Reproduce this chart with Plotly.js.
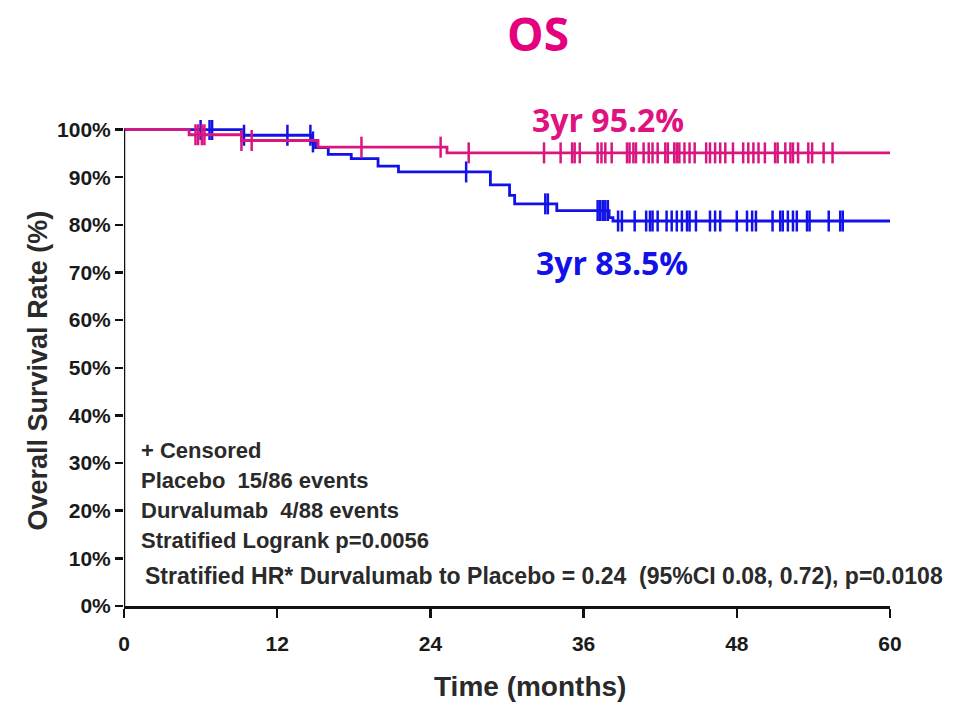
<!DOCTYPE html>
<html>
<head>
<meta charset="utf-8">
<script src="https://cdn.plot.ly/plotly-3.0.1.min.js"></script>
<style>html,body{margin:0;padding:0;background:#fff;}#chart{width:962px;height:702px;}</style>
</head>
<body>
<div id="chart"></div>
<script>
// Durvalumab (pink) Kaplan-Meier steps
const durvaTimes = [0, 5.1, 9.2, 15.2, 25.3, 60];
const durvaSurv  = [100, 98.9, 97.7, 96.3, 95.1, 95.1];
const durvaCensor = [5.6, 5.8, 6.1, 6.3, 9.2, 10.0, 18.6, 24.8, 27.0, 32.9, 34.2, 35.1, 35.3, 35.7,
  37.1, 37.4, 37.7, 38.2, 39.4, 39.6, 39.9, 40.1, 40.7, 41.1, 41.4, 41.8, 42.4, 42.6, 43.1, 43.3, 43.5,
  43.9, 44.3, 44.7, 45.6, 45.9, 46.3, 46.7, 47.1, 47.7, 48.5, 48.9, 49.3, 49.7, 50.2, 51.0, 51.2,
  51.8, 52.2, 52.4, 52.8, 53.6, 53.9, 54.8, 55.5];

// Placebo (blue) Kaplan-Meier steps
const placeboTimes = [0, 9.2, 14.7, 15.0, 16.0, 17.8, 19.9, 21.5, 28.7, 30.2, 30.6, 33.9, 38.0, 38.3, 60];
const placeboSurv  = [100, 98.8, 97.4, 96.2, 94.8, 93.9, 92.3, 91.1, 88.4, 86.2, 84.4, 83.0, 81.5, 80.8, 80.8];
const placeboCensor = [6.0, 6.7, 6.9, 9.4, 12.8, 14.6, 14.8, 26.8, 33.0, 33.2, 37.1, 37.3, 37.5, 37.7,
  37.9, 38.7, 39.0, 40.0, 40.9, 41.2, 41.4, 41.8, 42.5, 42.9, 43.3, 43.7, 44.1, 44.3, 44.8, 45.9,
  46.3, 46.7, 48.0, 48.8, 49.2, 49.5, 50.8, 51.4, 51.6, 52.0, 52.4, 52.7, 53.5, 53.7, 55.2, 56.1, 56.3];

const xTicks = [0, 12, 24, 36, 48, 60];
const yTicks = [0, 10, 20, 30, 40, 50, 60, 70, 80, 90, 100];
const yTickText = ['0%', '10%', '20%', '30%', '40%', '50%', '60%', '70%', '80%', '90%', '100%'];

const legendLines = ['+ Censored', 'Placebo  15/86 events', 'Durvalumab  4/88 events', 'Stratified Logrank p=0.0056'];
const hrLine = 'Stratified HR* Durvalumab to Placebo = 0.24  (95%CI 0.08, 0.72), p=0.0108';

const PINK = '#d9167f';
const BLUE = '#1212e8';

function stepAt(times, surv, t) {
  let v = surv[0];
  for (let i = 0; i < times.length; i++) { if (times[i] <= t) v = surv[i]; }
  return v;
}

const traces = [
  {x: placeboTimes, y: placeboSurv, mode: 'lines', line: {shape: 'hv', color: BLUE, width: 2.8}, hoverinfo: 'skip'},
  {x: placeboCensor, y: placeboCensor.map(t => stepAt(placeboTimes, placeboSurv, t)), mode: 'markers',
   marker: {symbol: 'line-ns', size: 15, line: {color: BLUE, width: 2.5}}, hoverinfo: 'skip'},
  {x: durvaTimes, y: durvaSurv, mode: 'lines', line: {shape: 'hv', color: PINK, width: 2.8}, hoverinfo: 'skip'},
  {x: durvaCensor, y: durvaCensor.map(t => stepAt(durvaTimes, durvaSurv, t)), mode: 'markers',
   marker: {symbol: 'line-ns', size: 15, line: {color: PINK, width: 2.5}}, hoverinfo: 'skip'}
];

const TXT = '#2a2a2a';
const FONT = 'Liberation Sans, Arial, sans-serif';
const annotations = [];
const legendY = [32.7, 26.3, 20.1, 13.8];
legendLines.forEach((s, i) => annotations.push({x: 1.2, y: legendY[i], xref: 'x', yref: 'y', text: '<b>' + s + '</b>',
  showarrow: false, xanchor: 'left', yanchor: 'middle', font: {family: FONT, size: 22, color: TXT}}));
annotations.push({x: 1.45, y: 6.4, xref: 'x', yref: 'y', text: '<b>' + hrLine + '</b>', showarrow: false,
  xanchor: 'left', yanchor: 'middle', font: {family: FONT, size: 23, color: TXT}});
annotations.push({x: 0.632, y: 1.001, xref: 'paper', yref: 'paper', text: '<b>3yr 95.2%</b>', showarrow: false,
  xanchor: 'center', yanchor: 'middle', font: {family: 'Open Sans, sans-serif', size: 32, color: '#e0127f'}});
annotations.push({x: 0.637, y: 0.707, xref: 'paper', yref: 'paper', text: '<b>3yr 83.5%</b>', showarrow: false,
  xanchor: 'center', yanchor: 'middle', font: {family: 'Open Sans, sans-serif', size: 32, color: BLUE}});
annotations.push({x: 0.530, y: -0.1665, xref: 'paper', yref: 'paper', text: '<b>Time (months)</b>', showarrow: false,
  xanchor: 'center', yanchor: 'middle', font: {family: FONT, size: 28, color: TXT}});
annotations.push({x: -0.112, y: 0.485, xref: 'paper', yref: 'paper', text: '<b>Overall Survival Rate (%)</b>', showarrow: false,
  textangle: -90, xanchor: 'center', yanchor: 'middle', font: {family: FONT, size: 27, color: TXT}});

const layout = {
  width: 962, height: 702,
  margin: {l: 124, r: 72, t: 119.5, b: 96},
  paper_bgcolor: '#fff', plot_bgcolor: '#fff',
  showlegend: false,
  title: {text: '<b>OS</b>', x: 538 / 962, xanchor: 'center', y: 1 - 35 / 702, yanchor: 'middle',
          font: {family: 'Open Sans, sans-serif', size: 46, color: '#e5007d'}},
  xaxis: {range: [0, 60], tickvals: xTicks, ticktext: xTicks.map(String), ticks: 'outside', ticklen: 9, tickwidth: 2.5,
          tickcolor: '#111', showline: true, linecolor: '#111', linewidth: 2.5, showgrid: false, zeroline: false,
          tickfont: {family: FONT, size: 21, color: '#1a1a1a', weight: 'bold'}, ticklabelstandoff: 8},
  yaxis: {range: [0, 102], tickvals: yTicks, ticktext: yTickText, ticks: 'outside', ticklen: 8, tickwidth: 2.5,
          tickcolor: '#111', showline: false, showgrid: false, zeroline: false,
          tickfont: {family: FONT, size: 21, color: '#1a1a1a', weight: 'bold'}},
  shapes: [{type: 'line', xref: 'x', yref: 'y', x0: 0, x1: 0, y0: 0, y1: 100, line: {color: '#111', width: 2.5}}],
  annotations: annotations
};

Plotly.newPlot('chart', traces, layout, {displayModeBar: false, staticPlot: true});
</script>
</body>
</html>
